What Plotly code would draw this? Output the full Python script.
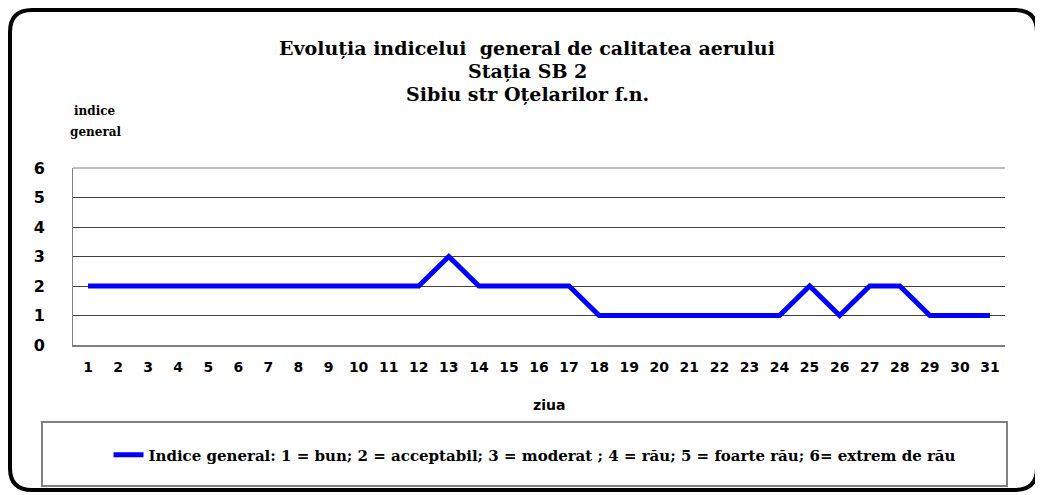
import plotly.graph_objects as go

days = list(range(1, 32))
values = [2, 2, 2, 2, 2, 2, 2, 2, 2, 2, 2, 2, 3, 2, 2, 2, 2,
          1, 1, 1, 1, 1, 1, 1, 2, 1, 2, 2, 1, 1, 1]
y_ticks = [0, 1, 2, 3, 4, 5, 6]
series_name = "Indice general: 1 = bun; 2 = acceptabil; 3 = moderat ; 4 = rău; 5 = foarte rău; 6= extrem de rău"
title_lines = ["Evoluția indicelui  general de calitatea aerului", "Stația SB 2", "Sibiu str Oțelarilor f.n."]
y_title_lines = ["indice", "general"]

OFF = 8  # default page body margin
W, H = 1035, 487
# plot area in screen pixels: left 73, right 1005, top 168, bottom 345
L = 73 - OFF
R = W - (1005 - OFF)
T = 168 - OFF
B = H - (345 - OFF)
PW = W - L - R
PH = H - T - B


def px(xs):
    return (xs - OFF - L) / PW


def py(ys):
    return (H - B - (ys - OFF)) / PH


fig = go.Figure()
fig.add_trace(go.Scatter(
    x=days, y=values, mode="lines", name=series_name,
    line=dict(color="#0000FF", width=5),
    showlegend=True,
))

fig.update_layout(
    width=W, height=H,
    margin=dict(l=L, r=R, t=T, b=B),
    paper_bgcolor="white", plot_bgcolor="white",
    showlegend=True,
    legend=dict(
        x=px(535), xanchor="center", y=py(455), yanchor="middle",
        orientation="h", bgcolor="rgba(0,0,0,0)", borderwidth=0,
        font=dict(family="DejaVu Serif", size=15, color="black", weight="bold"),
        itemwidth=30,
    ),
    xaxis=dict(
        range=[0.5, 31.5], tickmode="array", tickvals=days,
        ticktext=[str(d) for d in days],
        showgrid=False, zeroline=False,
        showline=True, linecolor="#808080", linewidth=2,
        ticks="", ticklen=0, ticklabelstandoff=8,
        tickfont=dict(family="DejaVu Sans", size=14, color="black", weight="bold"),
        fixedrange=True,
    ),
    yaxis=dict(
        range=[0, 6], tickmode="array", tickvals=y_ticks,
        showgrid=True, gridcolor="#404040", gridwidth=1,
        zeroline=False, showline=True, linecolor="#808080", linewidth=1,
        ticks="", ticklabelstandoff=24,
        tickfont=dict(family="DejaVu Sans", size=16, color="black", weight="bold"),
        fixedrange=True,
    ),
)

# chart title, one annotation per line
for i, (line, yc) in enumerate(zip(title_lines, [48, 71, 94])):
    fig.add_annotation(
        text=line, xref="paper", yref="paper",
        x=px(527), y=py(yc), xanchor="center", yanchor="middle",
        showarrow=False, align="center",
        font=dict(family="DejaVu Serif", size=19, color="black", weight="bold"),
    )
# y axis title
for line, yc in zip(y_title_lines, [111, 132]):
    fig.add_annotation(
        text=line, xref="paper", yref="paper",
        x=px(95), y=py(yc), xanchor="center", yanchor="middle", showarrow=False,
        font=dict(family="DejaVu Serif", size=12, color="black", weight="bold"),
    )
# x axis title
fig.add_annotation(
    text="ziua", xref="paper", yref="paper",
    x=px(549), y=py(405), xanchor="center", yanchor="middle", showarrow=False,
    font=dict(family="DejaVu Sans", size=14, color="black", weight="bold"),
)

# top border of plot area
fig.add_shape(type="line", xref="paper", yref="paper", x0=0, x1=1, y0=1, y1=1,
              line=dict(color="#808080", width=1))
# legend box
fig.add_shape(type="rect", xref="paper", yref="paper",
              x0=px(42), x1=px(1007), y0=py(486), y1=py(422),
              line=dict(color="#808080", width=2), fillcolor="rgba(0,0,0,0)")

# outer rounded frame (screen pixels)
x0, x1, y0, y1, r = 10, 1037, 10, 490, 22
path = (f"M {px(x0 + r)},{py(y0)} L {px(x1 - r)},{py(y0)} "
        f"Q {px(x1)},{py(y0)} {px(x1)},{py(y0 + r)} "
        f"L {px(x1)},{py(y1 - r)} Q {px(x1)},{py(y1)} {px(x1 - r)},{py(y1)} "
        f"L {px(x0 + r)},{py(y1)} Q {px(x0)},{py(y1)} {px(x0)},{py(y1 - r)} "
        f"L {px(x0)},{py(y0 + r)} Q {px(x0)},{py(y0)} {px(x0 + r)},{py(y0)} Z")
fig.add_shape(type="path", xref="paper", yref="paper", path=path,
              line=dict(color="black", width=4), fillcolor="rgba(0,0,0,0)")

fig.write_html("out.html", config={"displayModeBar": False})
